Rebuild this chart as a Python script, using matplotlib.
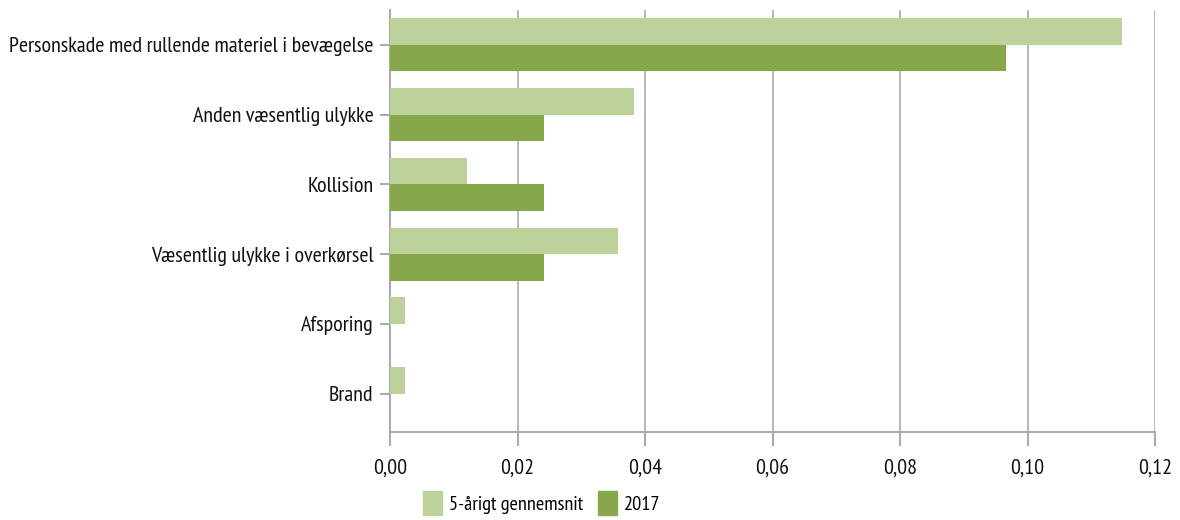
import matplotlib
matplotlib.use('Agg')
import matplotlib.pyplot as plt
from matplotlib import font_manager
from matplotlib.patches import Patch
from matplotlib.ticker import FuncFormatter
import numpy as np

categories = [
    "Personskade med rullende materiel i bevægelse",
    "Anden væsentlig ulykke",
    "Kollision",
    "Væsentlig ulykke i overkørsel",
    "Afsporing",
    "Brand",
]
avg_5yr = [0.1148, 0.0383, 0.0120, 0.0358, 0.0024, 0.0024]
year_2017 = [0.0966, 0.0241, 0.0241, 0.0241, 0.0, 0.0]
series_labels = ["5-årigt gennemsnit", "2017"]

LIGHT = "#bdd29a"
DARK = "#87a84a"
GRID = "#a9abae"
TEXT = "#111111"

# narrow sans for the labels, whichever is installed first
names = {f.name for f in font_manager.fontManager.ttflist}
family = "DejaVu Sans"
for cand in ["PT Sans Narrow", "Roboto Condensed", "Fira Sans Condensed",
             "Archivo Narrow", "Liberation Sans Narrow"]:
    if cand in names:
        family = cand
        break
plt.rcParams["font.family"] = [family, "DejaVu Sans"]

fig = plt.figure(figsize=(11.8, 5.2), dpi=100)

# size the text so the longest category label is ~365 px wide
probe = fig.text(0, 0, categories[0], fontsize=10)
fig.canvas.draw()
w10 = probe.get_window_extent().width
probe.remove()
fs = 10 * 365 / w10

ax = fig.add_axes([0.3305, 0.169, 0.6485, 0.812])

y = np.arange(len(categories))
h = 0.38
ax.barh(y - h / 2, avg_5yr, height=h, color=LIGHT, zorder=3)
ax.barh(y + h / 2, year_2017, height=h, color=DARK, zorder=3)

ax.set_ylim(len(categories) - 0.45, -0.5)
ax.set_xlim(0, 0.12)
ax.set_xticks(np.arange(0, 0.1201, 0.02))
ax.xaxis.set_major_formatter(FuncFormatter(lambda v, _: f"{v:.2f}".replace(".", ",")))
ax.set_yticks(y)
ax.set_yticklabels(categories)

ax.grid(axis="x", color=GRID, linewidth=1.2, zorder=0)
for side in ("top", "right"):
    ax.spines[side].set_visible(False)
for side in ("left", "bottom"):
    ax.spines[side].set_color(GRID)
    ax.spines[side].set_linewidth(1.5)
ax.tick_params(axis="x", length=10, width=1.5, color=GRID, labelsize=fs, pad=9, labelcolor=TEXT)
ax.tick_params(axis="y", length=7, width=1.5, color=GRID, labelsize=fs, pad=5, labelcolor=TEXT)

handles = [Patch(color=LIGHT), Patch(color=DARK)]
fig.legend(handles, series_labels, loc="lower center", bbox_to_anchor=(0.459, -0.025), ncol=2,
           frameon=False, fontsize=fs * 0.92, handlelength=0.95, handleheight=1.45,
           handletextpad=0.35, columnspacing=0.7)

fig.savefig("out.png", dpi=100)
